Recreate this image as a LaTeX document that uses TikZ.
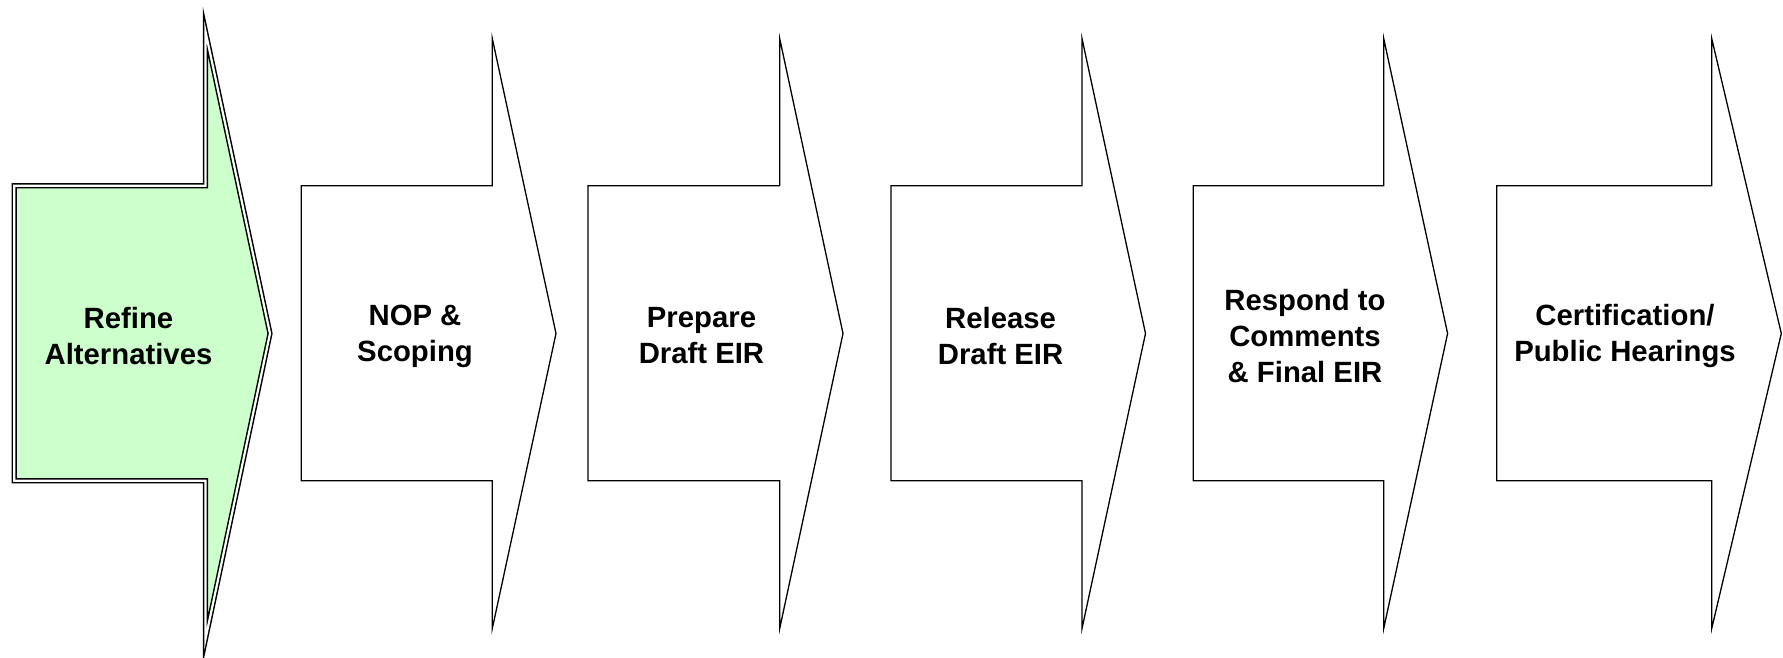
\documentclass[tikz,border=0pt]{standalone}
\usepackage{fontspec}
\setmainfont{Liberation Sans}
\definecolor{activegreen}{RGB}{204,255,204}
% chevron outline: left edge, head base, tip, head top, head bottom
\newcommand\chevpath[5]{(#1,185.8) -- (#2,185.8) -- (#2,#4) -- (#3,333.5) -- (#2,#5) -- (#2,480.8) -- (#1,480.8) -- cycle}
\tikzset{
  stagebox/.style={draw=black, fill=white, line width=1.3pt, line join=miter},
  activebox/.style={draw=black, fill=activegreen, line width=1.5pt, double=white, double distance=2.2pt, line join=miter, miter limit=20},
  stagelabel/.style={font=\bfseries\fontsize{29.3}{36}\selectfont, align=center, inner sep=0pt}
}
\begin{document}
\begin{tikzpicture}[x=1pt, y=-1pt]
\useasboundingbox (0,0) rectangle (1783,657);
% stage chevrons
\path[activebox] \chevpath{14.2}{205.5}{270}{31.5}{639};
\path[stagebox] \chevpath{301.3}{492.3}{556}{38.5}{628.5};
\path[stagebox] \chevpath{588}{779.7}{843}{38.5}{628.5};
\path[stagebox] \chevpath{891}{1082}{1145.5}{38.5}{628.5};
\path[stagebox] \chevpath{1193.3}{1383.7}{1447.6}{38.5}{628.5};
\path[stagebox] \chevpath{1496.7}{1711.7}{1781.3}{38.5}{628.5};
% stage labels
\node[stagelabel] (s1) at (128.5,336) {Refine\\Alternatives};
\node[stagelabel] (s2) at (415,336) {NOP \&\\Scoping};
\node[stagelabel] (s3) at (701.5,336) {Prepare\\Draft EIR};
\node[stagelabel] (s4) at (1000.6,336) {Release\\Draft EIR};
\node[stagelabel] (s5) at (1305,336) {Respond to\\Comments\\\& Final EIR};
\node[stagelabel] (s6) at (1625,336) {Certification/\\Public Hearings};
\end{tikzpicture}
\end{document}
